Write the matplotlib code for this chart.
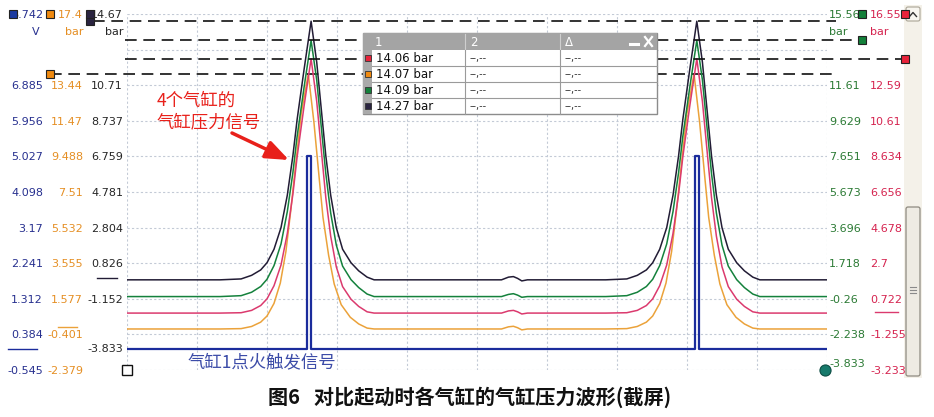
import numpy as np
import matplotlib.pyplot as plt
from matplotlib.patches import Rectangle, FancyBboxPatch
from matplotlib.transforms import blended_transform_factory

plt.rcParams['font.family'] = ['DejaVu Sans', 'Noto Sans CJK SC']
CJK = ['Noto Sans CJK SC', 'DejaVu Sans']

# time in screen divisions (10 across the plot)
t_cyl = [0.0, 1.0, 1.33, 1.63, 1.78, 1.91, 2.00, 2.10, 2.20, 2.29, 2.37, 2.43, 2.53, 2.63,
         2.71, 2.79, 2.84, 2.91, 2.99, 3.08, 3.20, 3.31, 3.43, 3.53, 4.50,
         5.35, 5.45, 5.52, 5.58, 5.64, 5.72, 6.50,
         6.84, 7.14, 7.29, 7.42, 7.51, 7.61, 7.71, 7.80, 7.88, 7.94, 8.04, 8.14,
         8.22, 8.30, 8.35, 8.42, 8.50, 8.59, 8.71, 8.82, 8.94, 9.04, 10.0]
# orange peaks sit a little earlier
t_orn = [0.0, 1.0, 1.33, 1.63, 1.78, 1.91, 2.00, 2.10, 2.19, 2.27, 2.34, 2.40, 2.49, 2.59,
         2.67, 2.75, 2.80, 2.88, 2.96, 3.06, 3.19, 3.31, 3.43, 3.53, 4.50,
         5.35, 5.45, 5.52, 5.58, 5.64, 5.72, 6.50,
         6.84, 7.14, 7.29, 7.42, 7.51, 7.61, 7.70, 7.78, 7.85, 7.91, 8.00, 8.10,
         8.18, 8.26, 8.31, 8.39, 8.47, 8.57, 8.70, 8.82, 8.94, 9.04, 10.0]

# cylinder pressures (bar)
p_black = [-0.10, -0.10, -0.10, -0.05, 0.15, 0.45, 0.85, 1.60, 2.80, 4.60, 6.80, 8.80, 11.60, 14.27,
           12.00, 8.80, 6.80, 4.60, 2.80, 1.60, 0.85, 0.40, 0.05, -0.10, -0.10,
           -0.10, 0.05, 0.08, -0.02, -0.16, -0.10, -0.10,
           -0.10, -0.05, 0.15, 0.45, 0.85, 1.60, 2.80, 4.60, 6.80, 8.80, 11.60, 14.27,
           12.00, 8.80, 6.80, 4.60, 2.80, 1.60, 0.85, 0.40, 0.05, -0.10, -0.10]
p_green = [-0.14, -0.14, -0.14, -0.09, 0.10, 0.42, 0.82, 1.58, 2.78, 4.58, 6.75, 8.75, 11.50, 14.09,
           11.90, 8.70, 6.70, 4.50, 2.72, 1.55, 0.80, 0.36, 0.00, -0.14, -0.14,
           -0.14, -0.02, 0.02, -0.06, -0.18, -0.14, -0.14,
           -0.14, -0.09, 0.10, 0.42, 0.82, 1.58, 2.78, 4.58, 6.75, 8.75, 11.50, 14.09,
           11.90, 8.70, 6.70, 4.50, 2.72, 1.55, 0.80, 0.36, 0.00, -0.14, -0.14]
p_red = [-0.07, -0.07, -0.07, -0.05, 0.08, 0.35, 0.72, 1.45, 2.60, 4.35, 6.55, 8.60, 11.45, 14.06,
         11.70, 8.40, 6.35, 4.20, 2.50, 1.40, 0.70, 0.30, 0.00, -0.07, -0.07,
         -0.07, 0.05, 0.08, 0.00, -0.12, -0.07, -0.07,
         -0.07, -0.05, 0.08, 0.35, 0.72, 1.45, 2.60, 4.35, 6.55, 8.60, 11.45, 14.06,
         11.70, 8.40, 6.35, 4.20, 2.50, 1.40, 0.70, 0.30, 0.00, -0.07, -0.07]
p_orange = [-0.10, -0.10, -0.10, -0.08, 0.04, 0.28, 0.62, 1.32, 2.45, 4.20, 6.50, 8.70, 11.90, 14.07,
            11.40, 8.10, 6.10, 4.00, 2.40, 1.25, 0.55, 0.18, -0.05, -0.10, -0.10,
            -0.10, 0.02, 0.05, -0.03, -0.15, -0.10, -0.10,
            -0.10, -0.08, 0.04, 0.28, 0.62, 1.32, 2.45, 4.20, 6.50, 8.70, 11.90, 14.07,
            11.40, 8.10, 6.10, 4.00, 2.40, 1.25, 0.55, 0.18, -0.05, -0.10, -0.10]

# cylinder 1 ignition trigger (V)
t_trig = [0.0, 2.576, 2.576, 2.624, 2.624, 8.114, 8.114, 8.176, 8.176, 10.0]
v_trig = [0.0, 0.0, 5.03, 5.03, 0.0, 0.0, 5.03, 5.03, 0.0, 0.0]

# cursor readout
cursor_vals = [14.06, 14.07, 14.09, 14.27]   # red, orange, green, black

# axis scales
blue_lim = (-0.545, 8.742)
blue_ticks = [8.742, 6.885, 5.956, 5.027, 4.098, 3.17, 2.241, 1.312, 0.384, -0.545]
orange_lim = (-2.379, 17.4)
orange_ticks = [17.4, 13.44, 11.47, 9.488, 7.51, 5.532, 3.555, 1.577, -0.401, -2.379]
black_lim = (-5.11, 14.67)
black_ticks = [14.67, 10.71, 8.737, 6.759, 4.781, 2.804, 0.826, -1.152]
green_lim = (-4.22, 15.56)
green_ticks = [15.56, 11.61, 9.629, 7.651, 5.673, 3.696, 1.718, -0.26, -2.238]
red_lim = (-3.233, 16.55)
red_ticks = [16.55, 12.59, 10.61, 8.634, 6.656, 4.678, 2.7, 0.722, -1.255, -3.233]

c_blue, c_orange, c_black, c_green, c_red = '#1b2c9c', '#eba23a', '#221c35', '#14813c', '#db3a6e'
t_blue, t_orange, t_black, t_green, t_red = '#27308f', '#e58f24', '#262626', '#2b7a34', '#d5234f'

W, H = 934, 417
L, R, T, B = 127, 827, 14, 370
fig = plt.figure(figsize=(W / 100, H / 100), dpi=100)

# scrollbar lives underneath everything
bg = fig.add_axes([0, 0, 1, 1], zorder=-1)
bg.set_xlim(0, W)
bg.set_ylim(H, 0)
bg.axis('off')
bg.add_patch(Rectangle((904, 5), 18, 373, fc='#f4f1e9', ec='none'))
bg.add_patch(FancyBboxPatch((906, 7), 14, 14, boxstyle='round,pad=0,rounding_size=2',
                            fc='#f8f6f0', ec='#aaa496', lw=0.8))
bg.plot([909.5, 913, 916.5], [16.5, 12.5, 16.5], color='#333333', lw=1)
bg.add_patch(FancyBboxPatch((906, 207), 14, 169, boxstyle='round,pad=0,rounding_size=2',
                            fc='#eeebe3', ec='#8e8a80', lw=0.9))
for gy in (287, 290, 293):
    bg.plot([910, 916], [gy, gy], color='#8a8a8a', lw=0.8)

ax = fig.add_axes([L / W, 1 - B / H, (R - L) / W, (B - T) / H])
ax.set_xlim(0, 10)
ax.set_ylim(0, 10)
ax.set_xticks(range(11))
ax.set_yticks(range(11))
ax.grid(True, ls=(0, (2, 2)), color='#c3cad6', lw=0.8)
for s in ax.spines.values():
    s.set_visible(False)


def fx(px):
    return (px - L) / (R - L)


def make_axis(lim, ticks, color, side, outward_px):
    a = ax.twinx()
    a.set_ylim(*lim)
    a.yaxis.set_ticks_position(side)
    a.spines[side].set_position(('outward', outward_px * 0.72))
    for s in a.spines.values():
        s.set_visible(False)
    a.set_yticks(ticks, [str(v) for v in ticks])
    a.tick_params(axis='y', length=0, pad=0, labelsize=8, labelcolor=color)
    return a


ax_blue = make_axis(blue_lim, blue_ticks, t_blue, 'left', L - 43)
ax_orange = make_axis(orange_lim, orange_ticks, t_orange, 'left', L - 83)
ax_black = make_axis(black_lim, black_ticks, t_black, 'left', L - 123)
ax_green = make_axis(green_lim, green_ticks, t_green, 'right', 829 - R)
ax_red = make_axis(red_lim, red_ticks, t_red, 'right', 870 - R)
ax.tick_params(left=False, bottom=False, right=False, labelleft=False, labelbottom=False)

ax_orange.plot(t_orn, p_orange, color=c_orange, lw=1.1)
ax_red.plot(t_cyl, p_red, color=c_red, lw=1.1)
ax_green.plot(t_cyl, p_green, color=c_green, lw=1.1)
ax_black.plot(t_cyl, p_black, color=c_black, lw=1.1)
ax_blue.plot(t_trig, v_trig, color=c_blue, lw=1.6)


def bt(a):
    return blended_transform_factory(a.transAxes, a.transData)


# cursor lines and channel markers
dash = (0, (7, 4))
cur_axes = [ax_red, ax_orange, ax_green, ax_black]
cur_ext = [(-0.003, fx(905)), (fx(50), fx(832)), (-0.003, fx(862)), (fx(93), fx(836))]
for a, v, (x0, x1) in zip(cur_axes, cursor_vals, cur_ext):
    a.plot([x0, x1], [v, v], transform=bt(a), color='#111111', lw=1.2, ls=dash, clip_on=False)
mk = dict(marker='s', ms=6, mec='#222222', mew=0.8, clip_on=False, ls='none')
ax_red.plot([fx(905)], [cursor_vals[0]], transform=bt(ax_red), mfc='#e8223a', **mk)
ax_orange.plot([fx(50)], [cursor_vals[1]], transform=bt(ax_orange), mfc='#f08a10', **mk)
ax_green.plot([fx(862)], [cursor_vals[2]], transform=bt(ax_green), mfc='#13803a', **mk)
ax_black.plot([fx(90)], [cursor_vals[3]], transform=bt(ax_black), mfc='#2a2440', **mk)
ax_blue.plot([fx(13)], [blue_lim[1]], transform=bt(ax_blue), mfc='#1b3aa0', **mk)
ax_orange.plot([fx(50)], [orange_lim[1]], transform=bt(ax_orange), mfc='#f08a10', **mk)
ax_black.plot([fx(90)], [black_lim[1]], transform=bt(ax_black), mfc='#2a2440', **mk)
ax_green.plot([fx(862)], [green_lim[1]], transform=bt(ax_green), mfc='#13803a', **mk)
ax_red.plot([fx(905)], [red_lim[1]], transform=bt(ax_red), mfc='#e8223a', **mk)

# zero reference ticks
ax_blue.plot([fx(8), fx(37)], [0, 0], transform=bt(ax_blue), color=c_blue, lw=1, clip_on=False)
ax_orange.plot([fx(58), fx(77)], [0, 0], transform=bt(ax_orange), color=c_orange, lw=1, clip_on=False)
ax_black.plot([fx(97), fx(117)], [0, 0], transform=bt(ax_black), color=c_black, lw=1, clip_on=False)
ax_red.plot([fx(875), fx(898)], [0, 0], transform=bt(ax_red), color=c_red, lw=1, clip_on=False)

ax.plot([0], [0], marker='s', ms=7, mfc='white', mec='#111111', mew=1, clip_on=False)
ax.plot([9.97], [0], marker='o', ms=8, mfc='#177a6c', mec='#0d4d44', mew=0.8, clip_on=False)

# overlay in pixel coordinates
ov = fig.add_axes([0, 0, 1, 1], zorder=10)
ov.set_xlim(0, W)
ov.set_ylim(H, 0)
ov.axis('off')
ov.patch.set_visible(False)

ov.text(40, 32, 'V', color=t_blue, fontsize=8, ha='right', va='center')
ov.text(83, 32, 'bar', color=t_orange, fontsize=8, ha='right', va='center')
ov.text(123, 32, 'bar', color=t_black, fontsize=8, ha='right', va='center')
ov.text(829, 32, 'bar', color=t_green, fontsize=8, ha='left', va='center')
ov.text(870, 32, 'bar', color=t_red, fontsize=8, ha='left', va='center')
ov.text(123, 349, '-3.833', color=t_black, fontsize=8, ha='right', va='center')
ov.text(829, 364, '-3.833', color=t_green, fontsize=8, ha='left', va='center')

# cursor table
tx0, ty0, tw = 363, 33, 294
ov.add_patch(Rectangle((tx0, ty0), tw, 81, fc='white', ec='#8c8c8c', lw=1))
ov.add_patch(Rectangle((tx0, ty0), tw, 17, fc='#a4a4a4', ec='none'))
ov.add_patch(Rectangle((tx0, ty0 + 17), 9, 64, fc='#aaaaaa', ec='none'))
for xs in (465, 560):
    ov.plot([xs, xs], [ty0 + 1, ty0 + 16], color='#cfcfcf', lw=0.8)
    ov.plot([xs, xs], [ty0 + 17, ty0 + 81], color='#9a9a9a', lw=0.8)
for ys in (66, 82, 98):
    ov.plot([tx0 + 9, tx0 + tw], [ys, ys], color='#9a9a9a', lw=0.8)
ov.text(375, 42, '1', color='white', fontsize=8.5, va='center')
ov.text(470, 42, '2', color='white', fontsize=8.5, va='center')
ov.text(565, 42, 'Δ', color='white', fontsize=8.5, va='center')
ov.plot([630, 638], [44, 44], color='white', lw=2.2)
ov.plot([645, 652], [37, 46], color='white', lw=1.6)
ov.plot([645, 652], [46, 37], color='white', lw=1.6)
row_cols = ['#e8223a', '#f08a10', '#13803a', '#2a2440']
for i, (v, col) in enumerate(zip(cursor_vals, row_cols)):
    yc = 58 + 16 * i
    ov.add_patch(Rectangle((365, yc - 3), 6, 6, fc=col, ec='#333333', lw=0.6))
    ov.text(376, yc, f'{v:.2f} bar', fontsize=8.5, va='center', color='#111111')
    ov.text(470, yc, '--,--', fontsize=7, va='center', color='#333333')
    ov.text(565, yc, '--,--', fontsize=7, va='center', color='#333333')

# annotations
ov.text(157, 101, '4个气缸的', color='#e8201a', fontsize=12.5, family=CJK, va='center')
ov.text(157, 122, '气缸压力信号', color='#e8201a', fontsize=12.5, family=CJK, va='center')
ov.annotate('', xy=(289, 160), xytext=(232, 133),
            arrowprops=dict(arrowstyle='-|>,head_length=1.4,head_width=0.55', color='#e8201a',
                            lw=2.5, shrinkA=0, shrinkB=0))
ov.text(188, 362, '气缸1点火触发信号', color='#3c4ca8', fontsize=12.5, family=CJK, va='center')
ov.text(470, 397, '图6   对比起动时各气缸的气缸压力波形(截屏)', fontsize=14.5, fontweight='bold',
        family=CJK, ha='center', va='center', color='#111111')

fig.savefig('out.png', dpi=100)
